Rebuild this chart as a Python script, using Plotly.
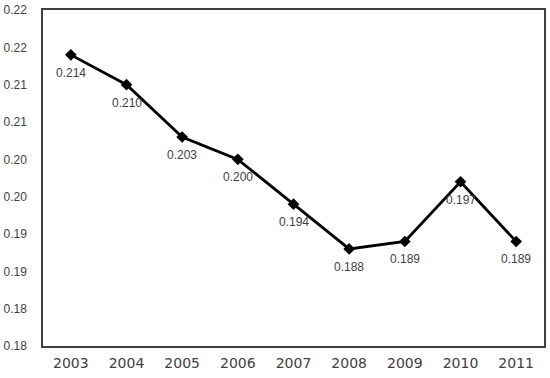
import plotly.graph_objects as go

years = ["2003", "2004", "2005", "2006", "2007", "2008", "2009", "2010", "2011"]
values = [0.214, 0.210, 0.203, 0.200, 0.194, 0.188, 0.189, 0.197, 0.189]
labels = ["0.214", "0.210", "0.203", "0.200", "0.194", "0.188", "0.189", "0.197", "0.189"]
ytick_vals = [0.175, 0.18, 0.185, 0.19, 0.195, 0.20, 0.205, 0.21, 0.215, 0.22]
ytick_text = ["0.18", "0.18", "0.19", "0.19", "0.20", "0.20", "0.21", "0.21", "0.22", "0.22"]

fig = go.Figure()
fig.add_trace(go.Scatter(
    x=years, y=values,
    mode="lines+markers",
    line=dict(color="black", width=2.8),
    marker=dict(symbol="diamond", size=9, color="black"),
    cliponaxis=False,
    showlegend=False,
))

for i, (v, lab) in enumerate(zip(values, labels)):
    fig.add_annotation(
        x=i, y=v, xref="x", yref="y", text=lab, showarrow=False,
        yshift=-18,
        font=dict(family="Liberation Sans", size=12, color="#404040"),
    )

fig.update_layout(
    width=550, height=378,
    margin=dict(l=43, r=6, t=10, b=32),
    paper_bgcolor="white", plot_bgcolor="white",
    xaxis=dict(
        type="category", range=[-0.5, 8.5],
        showgrid=False, zeroline=False, automargin=False,
        showline=True, linecolor="#404040", linewidth=1.5, mirror=True,
        ticks="", ticklabelstandoff=3,
        tickfont=dict(family="DejaVu Sans", size=14, color="#404040"),
    ),
    yaxis=dict(
        range=[0.175, 0.22001],
        tickvals=ytick_vals, ticktext=ytick_text,
        showgrid=False, zeroline=False, automargin=False,
        showline=True, linecolor="#404040", linewidth=1.5, mirror=True,
        ticks="", ticklabelstandoff=12,
        tickfont=dict(family="Liberation Sans", size=12, color="#404040"),
    ),
)

fig.write_html("out.html", config={"displayModeBar": False},
               post_script="document.body.style.margin='0';")
